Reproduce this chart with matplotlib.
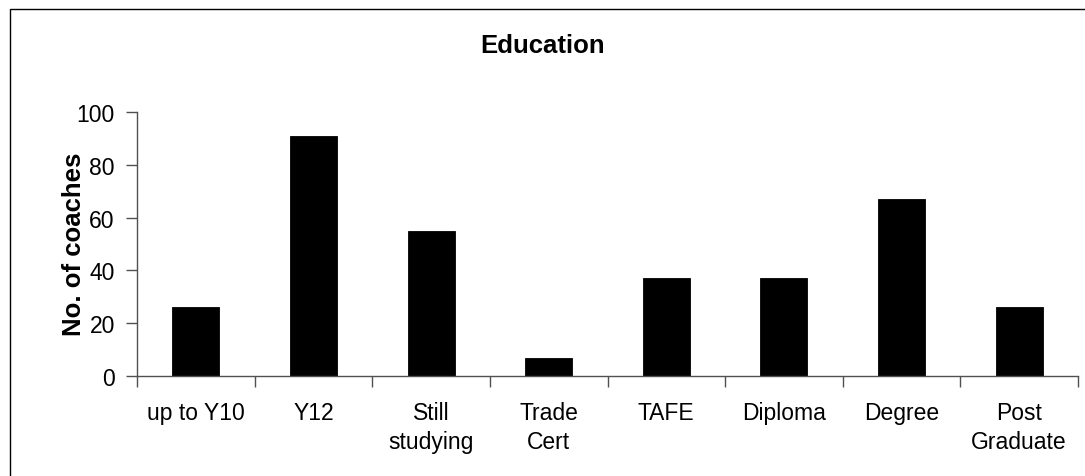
import matplotlib
matplotlib.use("Agg")
import matplotlib.pyplot as plt
from matplotlib.patches import Rectangle
import numpy as np

plt.rcParams['font.family'] = ['Liberation Sans', 'DejaVu Sans']

categories = ["up to Y10", "Y12", "Still\nstudying", "Trade\nCert", "TAFE",
              "Diploma", "Degree", "Post\nGraduate"]
values = [26, 91, 55, 7, 37, 37, 67, 26]
y_ticks = [0, 20, 40, 60, 80, 100]
title = "Education"
ylabel = "No. of coaches"

W, H = 1085, 477
fig = plt.figure(figsize=(W / 100, H / 100), dpi=100)
fig.patch.set_facecolor("white")

left, right, top, bottom = 137, 1078, 113, 377
ax = fig.add_axes([left / W, 1 - bottom / H, (right - left) / W, (bottom - top) / H])

x = np.arange(len(categories))
ax.bar(x, values, width=0.4, color="black", edgecolor="black", linewidth=0.6)

ax.set_xlim(-0.5, len(categories) - 0.5)
ax.set_ylim(0, 100)

for s in ["top", "right"]:
    ax.spines[s].set_visible(False)
axis_col = "#505050"
for s in ["left", "bottom"]:
    ax.spines[s].set_color(axis_col)
    ax.spines[s].set_linewidth(1.0)

ax.set_yticks(y_ticks)
ax.set_yticklabels([str(v) for v in y_ticks])
ax.tick_params(axis="y", direction="out", length=8, width=1.0, color=axis_col,
               labelsize=16.5, pad=8)

ax.set_xticks(np.arange(-0.5, len(categories), 1.0))
ax.set_xticklabels([])
ax.set_xticks(x, minor=True)
ax.set_xticklabels(categories, minor=True, fontsize=16.5, linespacing=1.35)
ax.tick_params(axis="x", which="major", direction="out", length=8, width=1.0,
               color=axis_col)
ax.tick_params(axis="x", which="minor", length=0, pad=18)

fig.text(0.5, 1 - 53 / H, title, ha="center", va="baseline",
         fontsize=18.5, fontweight="bold")
fig.text(74 / W, 1 - 244 / H, ylabel, ha="center", va="center", rotation=90,
         fontsize=18.5, fontweight="bold")

border = Rectangle((10 / W, -0.2), 2.0, (1 - 9.5 / H) + 0.2,
                   transform=fig.transFigure, fill=False, edgecolor="black",
                   linewidth=1.0, clip_on=False)
fig.patches.append(border)

fig.savefig("out.png", dpi=100, facecolor="white")
